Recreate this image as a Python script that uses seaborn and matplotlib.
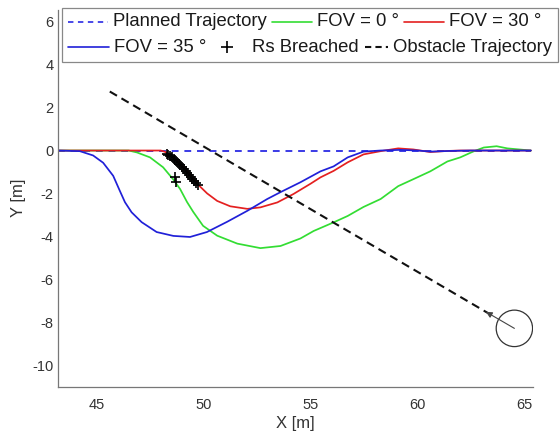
import numpy as np
import pandas as pd
import matplotlib
matplotlib.use("Agg")
import matplotlib.pyplot as plt
from matplotlib.patches import Circle, Rectangle
from matplotlib.lines import Line2D
import seaborn as sns

# ---------------- data ----------------
planned_x = [43.2, 65.3]
planned_y = [0.0, 0.0]

fov0_x = [43.2, 46.5, 46.89, 47.5, 48.11, 48.58, 48.91, 49.23, 49.52, 49.98, 50.64,
          51.58, 52.66, 53.6, 54.53, 55.15, 56.08, 56.74, 57.48, 58.28, 59.1, 59.8,
          60.6, 61.4, 62.0, 62.6, 63.1, 63.7, 64.2, 65.3]
fov0_y = [0.0, 0.0, -0.09, -0.32, -0.78, -1.34, -1.8, -2.4, -2.86, -3.51, -3.97,
          -4.34, -4.55, -4.45, -4.1, -3.75, -3.35, -3.05, -2.63, -2.26, -1.66, -1.34,
          -0.97, -0.51, -0.32, -0.05, 0.14, 0.2, 0.1, 0.0]

fov30_x = [43.2, 48.0, 48.2, 48.44, 48.7, 48.91, 49.2, 49.52, 49.84, 50.17, 50.64,
           51.25, 52.05, 52.66, 53.45, 54.2, 55.0, 55.47, 56.08, 56.74, 57.48, 58.28,
           59.1, 59.8, 60.6, 61.4, 62.0, 65.3]
fov30_y = [0.0, 0.0, -0.06, -0.22, -0.42, -0.62, -0.92, -1.3, -1.68, -2.0, -2.35,
           -2.6, -2.72, -2.65, -2.42, -2.03, -1.55, -1.25, -0.95, -0.55, -0.18, -0.03,
           0.1, 0.05, -0.07, -0.02, 0.0, 0.0]

fov35_x = [43.2, 44.22, 44.84, 45.31, 45.78, 46.09, 46.33, 46.64, 47.11, 47.81, 48.59,
           49.37, 50.16, 51.11, 52.05, 52.98, 53.6, 54.53, 55.47, 56.08, 56.74, 57.48,
           58.28, 59.2, 60.0, 60.6, 61.5, 62.5, 65.3]
fov35_y = [0.0, -0.03, -0.23, -0.57, -1.18, -1.88, -2.41, -2.88, -3.34, -3.8, -3.98,
           -4.03, -3.8, -3.32, -2.81, -2.26, -1.94, -1.48, -0.97, -0.74, -0.32, -0.05,
           0.0, 0.03, 0.0, -0.05, -0.02, 0.0, 0.0]

breach_x = [48.28, 48.36, 48.44, 48.52, 48.6, 48.68, 48.76, 48.84, 48.92, 49.0,
            49.08, 49.16, 49.24, 49.32, 49.4, 49.48, 49.56, 49.64, 49.72, 48.67, 48.72]
breach_y = [-0.15, -0.2, -0.26, -0.32, -0.39, -0.46, -0.53, -0.61, -0.69, -0.77,
            -0.86, -0.95, -1.04, -1.13, -1.22, -1.32, -1.42, -1.52, -1.62, -1.22, -1.48]

obstacle_x = [45.62, 63.3]
obstacle_y = [2.75, -7.58]
obstacle_center = (64.53, -8.29)
obstacle_radius = 0.85
arrow_tip = (63.2, -7.52)

labels = ["Planned Trajectory", "FOV = 0 \u00b0", "FOV = 30 \u00b0",
          "FOV = 35 \u00b0", "Rs Breached", "Obstacle Trajectory"]

# ---------------- style ----------------
sns.set_style("white")
plt.rcParams["font.family"] = ["Liberation Sans", "DejaVu Sans"]
plt.rcParams["axes.unicode_minus"] = False

W, H = 560, 434
fig = plt.figure(figsize=(W / 100, H / 100), dpi=100)
ax = fig.add_axes([58 / W, 1 - 386.5 / H, (533 - 58) / W, (386.5 - 10) / H])

c_plan = "#3a3ae6"
c_g = "#33dd33"
c_r = "#e42020"
c_b = "#2020d8"
c_o = "#111111"

sns.lineplot(x=planned_x, y=planned_y, ax=ax, color=c_plan, lw=1.4,
             linestyle=(0, (3.5, 3)), sort=False, estimator=None)
sns.lineplot(x=fov0_x, y=fov0_y, ax=ax, color=c_g, lw=1.25, sort=False, estimator=None)
sns.lineplot(x=fov30_x, y=fov30_y, ax=ax, color=c_r, lw=1.25, sort=False, estimator=None)
sns.lineplot(x=fov35_x, y=fov35_y, ax=ax, color=c_b, lw=1.25, sort=False, estimator=None)
sns.scatterplot(x=breach_x, y=breach_y, ax=ax, marker="+", color="black",
                s=45, linewidth=1.2, zorder=5)
sns.lineplot(x=obstacle_x, y=obstacle_y, ax=ax, color=c_o, lw=1.5,
             linestyle=(0, (4, 2.5)), sort=False, estimator=None)

ax.add_patch(Circle(obstacle_center, obstacle_radius, fill=False,
                    edgecolor="#333333", lw=0.9))
ax.annotate("", xy=arrow_tip, xytext=obstacle_center,
            arrowprops=dict(arrowstyle="-|>", color="#444444", lw=0.8,
                            mutation_scale=9, shrinkA=0, shrinkB=0))

ax.set_xlim(43.2, 65.4)
ax.set_ylim(-11, 6.55)
ax.set_xticks([45, 50, 55, 60, 65])
ax.set_yticks([-10, -8, -6, -4, -2, 0, 2, 4, 6])
ax.tick_params(direction="in", length=4, width=0.8, colors="#666666",
               labelcolor="#333333", labelsize=10.5)
ax.tick_params(axis="x", pad=8)
ax.tick_params(axis="y", pad=3)
for s in ["top", "right"]:
    ax.spines[s].set_visible(False)
for s in ["left", "bottom"]:
    ax.spines[s].set_color("#777777")
    ax.spines[s].set_linewidth(0.9)
ax.set_xlabel("X [m]", fontsize=12, color="#333333", labelpad=3.5)
ax.set_ylabel("Y [m]", fontsize=12, color="#333333", labelpad=5)

# ---------------- legend (MATLAB-style, packed row by row) ----------------
def fx(px):
    return px / W

def fy(py):
    return 1 - py / H

fig.add_artist(Rectangle((fx(62), fy(62)), fx(558) - fx(62), fy(8) - fy(62),
                         transform=fig.transFigure, fill=True, facecolor="white",
                         edgecolor="#888888", lw=0.9, zorder=10))

renderer = fig.canvas.get_renderer()
LFS = 13.3

def add_entry(x0, yc, kind, color, label, hlen, ls="-", lw=1.2, gap=5):
    if kind == "line":
        fig.add_artist(Line2D([fx(x0), fx(x0 + hlen)], [fy(yc), fy(yc)],
                              transform=fig.transFigure, color=color, lw=lw,
                              linestyle=ls, zorder=11))
    else:
        fig.add_artist(Line2D([fx(x0 + hlen / 2)], [fy(yc)], transform=fig.transFigure,
                              color=color, marker="+", markersize=8, mew=1.2,
                              linestyle="none", zorder=11))
    t = fig.text(fx(x0 + hlen + gap), fy(yc), label, fontsize=LFS, color="#1a1a1a",
                 va="center", ha="left", zorder=11)
    bb = t.get_window_extent(renderer=renderer)
    return bb.x1

row1, row2 = 22, 47
x = add_entry(68, row1, "line", c_plan, labels[0], 40, ls=(0, (3, 2.5)), lw=1.3)
x = add_entry(x + 5, row1, "line", c_g, labels[1], 40)
x = add_entry(x + 5, row1, "line", c_r, labels[2], 40)

x = add_entry(68, row2, "line", c_b, labels[3], 41)
x = add_entry(x + 14, row2, "marker", "black", labels[4], 14, gap=18)
x = add_entry(x + 6, row2, "line", c_o, labels[5], 23, ls=(0, (3, 2)), lw=1.5)

fig.savefig("out.png", dpi=100)
